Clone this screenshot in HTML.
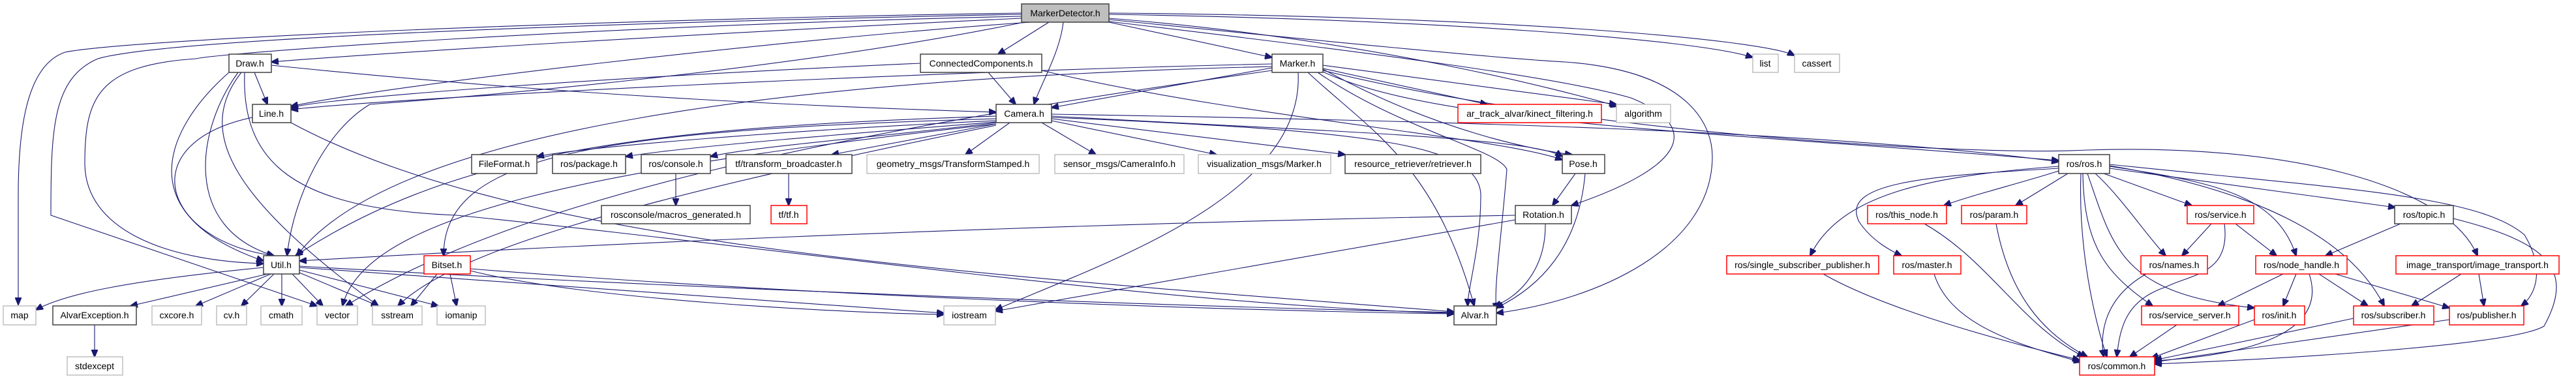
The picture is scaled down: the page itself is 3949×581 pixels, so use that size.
<!DOCTYPE html>
<html><head><meta charset="utf-8"><style>
html,body{margin:0;padding:0;background:#fff;}
svg{display:block;}
text{font-family:"Liberation Sans",sans-serif;font-size:14px;text-anchor:middle;fill:#000;}
.n rect{fill:#fff;stroke:#404040;stroke-width:1.5;}
.r rect{fill:#fff;stroke:#ff0000;stroke-width:1.5;}
.g rect{fill:#fff;stroke:#bfbfbf;stroke-width:1.5;}
path{fill:none;stroke:#191970;stroke-width:1.1;}
</style></head><body>
<svg width="3949" height="581" viewBox="0 0 3949 581" xmlns="http://www.w3.org/2000/svg">
<defs><marker id="a" markerWidth="12" markerHeight="10" refX="11" refY="5" orient="auto" markerUnits="userSpaceOnUse"><path d="M0,0 L12,5 L0,10 Z" style="fill:#191970;stroke:#191970"/></marker></defs>
<g marker-end="url(#a)">
<!-- MarkerDetector edges -->
<path d="M1566,20 C900,30 200,60 100,80 C40,100 28,200 28,300 L28,467"/>
<path d="M1566,22 C900,35 250,60 150,90 C80,120 78,200 78,330 L486,469"/>
<path d="M1566,25 C900,40 350,80 300,90 C150,100 130,150 130,250 C130,350 250,400 404,404"/>
<path d="M1566,28 C1100,50 600,80 416,95"/>
<path d="M1580,34 C1200,60 600,130 446,163"/>
<path d="M1608,34 L1530,83"/>
<path d="M1630,34 C1625,80 1595,130 1585,160"/>
<path d="M1700,34 L1950,88"/>
<path d="M1700,22 C2200,30 2600,60 2687,88"/>
<path d="M1700,20 C2300,25 2700,60 2751,85"/>
<path d="M1700,28 C2100,60 2400,140 2480,163"/>
<path d="M1700,30 C2000,60 2300,90 2400,95 C2600,110 2625,200 2625,240 C2625,380 2450,460 2294,480"/>
<path d="M1700,33 C2100,80 2400,120 2500,150 C2600,190 2600,250 2409,315"/>
<path d="M1570,34 C1200,110 700,150 567,160 C500,200 450,300 440,392"/>
<!-- Draw -->
<path d="M390,111 L410,160"/>
<path d="M416,100 C900,150 1300,165 1527,172"/>
<path d="M351,111 C250,200 200,330 404,400"/>
<path d="M365,111 C300,200 280,350 420,392"/>
<path d="M370,111 C300,200 350,300 580,469"/>
<path d="M375,111 C370,250 450,320 700,330 C1200,380 1800,470 2229,480"/>
<!-- Line -->
<path d="M387,180 C200,220 250,370 420,392"/>
<path d="M446,188 C800,380 1500,420 2229,478"/>
<!-- CC -->
<path d="M1411,97 C900,120 500,150 446,165"/>
<path d="M1515,111 L1557,160"/>
<path d="M1597,108 C1900,180 2300,210 2395,245"/>
<!-- Marker -->
<path d="M1950,104 L1612,165"/>
<path d="M2028,105 L2280,160"/>
<path d="M2028,100 L2478,160"/>
<path d="M2005,111 C2100,200 2200,250 2260,469"/>
<path d="M2020,111 C2150,200 2300,230 2310,260 C2300,380 2290,440 2294,475"/>
<path d="M1950,98 C1400,110 600,150 446,168"/>
<path d="M1950,102 C1200,120 600,200 455,392"/>
<path d="M2028,110 C2200,190 2600,200 3156,246"/>
<path d="M2028,108 C2400,200 3000,240 3200,230 C3500,220 3750,280 3798,392"/>
<path d="M1950,108 C1300,200 800,300 530,469"/>
<path d="M1990,111 C2000,300 1700,400 1526,475"/>
<path d="M2028,106 C2200,200 2350,230 2410,237"/>
<!-- Camera -->
<path d="M1527,178 C1000,195 700,230 453,392"/>
<path d="M1527,182 C900,200 680,240 680,392"/>
<path d="M1527,185 C1200,200 900,225 823,240"/>
<path d="M1527,187 C1300,205 1050,225 959,240"/>
<path d="M1527,188 C1350,210 1150,225 1089,240"/>
<path d="M1527,190 L1275,237"/>
<path d="M1548,188 L1480,237"/>
<path d="M1597,188 L1680,237"/>
<path d="M1612,185 L1865,237"/>
<path d="M1612,182 L2062,237"/>
<path d="M1612,178 C2000,200 2350,210 2395,240"/>
<path d="M1612,175 C2200,185 2800,200 3156,248"/>
<path d="M1612,180 C2100,200 2270,220 2270,300 C2270,380 2250,440 2250,469"/>
<path d="M1527,190 C900,260 560,330 525,469"/>
<path d="M1527,192 C1000,300 700,380 610,469"/>
<!-- Util -->
<path d="M404,410 C200,430 100,450 55,475"/>
<path d="M410,420 L200,469"/>
<path d="M415,420 L300,469"/>
<path d="M420,420 L370,469"/>
<path d="M432,420 L432,469"/>
<path d="M448,420 L495,469"/>
<path d="M459,418 L580,469"/>
<path d="M459,414 L672,469"/>
<path d="M459,410 C900,440 1300,470 1447,480"/>
<path d="M459,408 C1000,440 1800,470 2229,479"/>
<!-- Bitset -->
<path d="M670,420 L630,469"/>
<path d="M690,420 L700,469"/>
<path d="M721,415 C900,460 1300,480 1447,482"/>
<path d="M721,412 C1200,450 1800,475 2229,481"/>
<path d="M145,498 L145,547"/>
<!-- Rotation / Pose -->
<path d="M2323,330 C1500,345 800,380 459,400"/>
<path d="M2323,337 L1526,477"/>
<path d="M2369,343 C2370,420 2320,460 2290,469"/>
<path d="M2415,266 L2380,315"/>
<path d="M2430,266 C2420,380 2360,440 2294,472"/>
<path d="M1036,266 L1036,315"/>
<path d="M1209,266 L1209,315"/>
<!-- ros -->
<path d="M3156,262 C3100,280 3020,300 2980,315"/>
<path d="M3156,255 C2950,270 2820,300 2775,392"/>
<path d="M3156,258 C2950,270 2820,280 2850,340 C2870,370 2900,385 2915,392"/>
<path d="M3170,266 L3090,315"/>
<path d="M3225,266 L3360,315"/>
<path d="M3234,258 L3672,318"/>
<path d="M3212,266 C3250,300 3290,360 3320,392"/>
<path d="M3234,255 C3400,280 3490,300 3520,392"/>
<path d="M3190,266 C3185,400 3220,520 3230,547"/>
<path d="M3193,266 C3195,380 3230,420 3300,469"/>
<path d="M3200,266 C3240,380 3250,450 3456,472"/>
<path d="M3234,254 C3450,290 3600,360 3655,469"/>
<path d="M3234,252 C3600,290 3800,300 3870,360 C3900,410 3890,450 3865,469"/>
<path d="M3761,335 C3900,370 3950,410 3900,500 C3850,530 3500,550 3303,558"/>
<path d="M3390,343 L3345,392"/>
<path d="M3427,343 L3490,392"/>
<path d="M3410,343 C3420,420 3360,420 3320,440 C3260,460 3250,500 3245,547"/>
<path d="M3680,343 L3565,392"/>
<path d="M3060,343 C3080,450 3130,510 3200,547"/>
<path d="M2950,343 C3050,400 3100,500 3195,547"/>
<path d="M2795,420 C2900,480 3100,530 3188,552"/>
<path d="M2965,420 C2990,500 3100,530 3190,555"/>
<path d="M3290,420 C3220,460 3220,520 3225,547"/>
<path d="M3500,420 L3400,469"/>
<path d="M3520,420 L3500,469"/>
<path d="M3555,420 L3630,469"/>
<path d="M3580,420 L3755,472"/>
<path d="M3540,420 C3560,480 3520,540 3303,553"/>
<path d="M3773,420 L3697,469"/>
<path d="M3800,420 L3808,469"/>
<path d="M3337,498 L3265,547"/>
<path d="M3456,490 L3298,549"/>
<path d="M3608,488 L3303,552"/>
<path d="M3755,490 L3303,555"/>
</g>
<!-- nodes -->
<g class="n"><rect x="1566" y="6" width="134" height="28" style="fill:#bfbfbf"/><text x="1633" y="25">MarkerDetector.h</text></g>
<g class="n"><rect x="351" y="83" width="65" height="28"/><text x="383" y="102">Draw.h</text></g>
<g class="n"><rect x="1411" y="83" width="186" height="28"/><text x="1504" y="102">ConnectedComponents.h</text></g>
<g class="n"><rect x="1950" y="83" width="78" height="28"/><text x="1989" y="102">Marker.h</text></g>
<g class="g"><rect x="2687" y="83" width="39" height="28"/><text x="2706" y="102">list</text></g>
<g class="g"><rect x="2751" y="83" width="69" height="28"/><text x="2785" y="102">cassert</text></g>
<g class="n"><rect x="387" y="160" width="59" height="28"/><text x="416" y="179">Line.h</text></g>
<g class="n"><rect x="1527" y="160" width="85" height="28"/><text x="1570" y="179">Camera.h</text></g>
<g class="r"><rect x="2235" y="160" width="220" height="28"/><text x="2345" y="179">ar_track_alvar/kinect_filtering.h</text></g>
<g class="g"><rect x="2478" y="160" width="83" height="28"/><text x="2519" y="179">algorithm</text></g>
<g class="n"><rect x="723" y="237" width="100" height="29"/><text x="773" y="256">FileFormat.h</text></g>
<g class="n"><rect x="847" y="237" width="112" height="29"/><text x="903" y="256">ros/package.h</text></g>
<g class="n"><rect x="983" y="237" width="106" height="29"/><text x="1036" y="256">ros/console.h</text></g>
<g class="n"><rect x="1113" y="237" width="193" height="29"/><text x="1209" y="256">tf/transform_broadcaster.h</text></g>
<g class="g"><rect x="1329" y="237" width="264" height="29"/><text x="1461" y="256">geometry_msgs/TransformStamped.h</text></g>
<g class="g"><rect x="1617" y="237" width="198" height="29"/><text x="1716" y="256">sensor_msgs/CameraInfo.h</text></g>
<g class="g"><rect x="1837" y="237" width="203" height="29"/><text x="1938" y="256">visualization_msgs/Marker.h</text></g>
<g class="n"><rect x="2062" y="237" width="208" height="29"/><text x="2166" y="256">resource_retriever/retriever.h</text></g>
<g class="n"><rect x="2395" y="237" width="65" height="29"/><text x="2427" y="256">Pose.h</text></g>
<g class="n"><rect x="3156" y="237" width="78" height="29"/><text x="3195" y="256">ros/ros.h</text></g>
<g class="n"><rect x="922" y="315" width="228" height="28"/><text x="1036" y="334">rosconsole/macros_generated.h</text></g>
<g class="r"><rect x="1182" y="315" width="55" height="28"/><text x="1209" y="334">tf/tf.h</text></g>
<g class="n"><rect x="2323" y="315" width="86" height="28"/><text x="2366" y="334">Rotation.h</text></g>
<g class="r"><rect x="2863" y="315" width="121" height="28"/><text x="2923" y="334">ros/this_node.h</text></g>
<g class="r"><rect x="3007" y="315" width="100" height="28"/><text x="3057" y="334">ros/param.h</text></g>
<g class="r"><rect x="3353" y="315" width="102" height="28"/><text x="3404" y="334">ros/service.h</text></g>
<g class="n"><rect x="3671" y="315" width="90" height="28"/><text x="3716" y="334">ros/topic.h</text></g>
<g class="n"><rect x="404" y="392" width="55" height="28"/><text x="431" y="411">Util.h</text></g>
<g class="r"><rect x="650" y="392" width="71" height="28"/><text x="685" y="411">Bitset.h</text></g>
<g class="r"><rect x="2647" y="392" width="233" height="28"/><text x="2763" y="411">ros/single_subscriber_publisher.h</text></g>
<g class="r"><rect x="2903" y="392" width="103" height="28"/><text x="2954" y="411">ros/master.h</text></g>
<g class="r"><rect x="3282" y="392" width="102" height="28"/><text x="3333" y="411">ros/names.h</text></g>
<g class="r"><rect x="3458" y="392" width="140" height="28"/><text x="3528" y="411">ros/node_handle.h</text></g>
<g class="r"><rect x="3673" y="392" width="250" height="28"/><text x="3798" y="411">image_transport/image_transport.h</text></g>
<g class="g"><rect x="5" y="469" width="50" height="29"/><text x="30" y="488">map</text></g>
<g class="n"><rect x="81" y="469" width="128" height="29"/><text x="145" y="488">AlvarException.h</text></g>
<g class="g"><rect x="233" y="469" width="76" height="29"/><text x="271" y="488">cxcore.h</text></g>
<g class="g"><rect x="332" y="469" width="46" height="29"/><text x="355" y="488">cv.h</text></g>
<g class="g"><rect x="400" y="469" width="63" height="29"/><text x="431" y="488">cmath</text></g>
<g class="g"><rect x="486" y="469" width="62" height="29"/><text x="517" y="488">vector</text></g>
<g class="g"><rect x="571" y="469" width="76" height="29"/><text x="609" y="488">sstream</text></g>
<g class="g"><rect x="670" y="469" width="74" height="29"/><text x="707" y="488">iomanip</text></g>
<g class="g"><rect x="1447" y="469" width="79" height="29"/><text x="1486" y="488">iostream</text></g>
<g class="n"><rect x="2229" y="469" width="65" height="29"/><text x="2261" y="488">Alvar.h</text></g>
<g class="r"><rect x="3283" y="469" width="149" height="29"/><text x="3357" y="488">ros/service_server.h</text></g>
<g class="r"><rect x="3456" y="469" width="77" height="29"/><text x="3494" y="488">ros/init.h</text></g>
<g class="r"><rect x="3608" y="469" width="123" height="29"/><text x="3669" y="488">ros/subscriber.h</text></g>
<g class="r"><rect x="3755" y="469" width="114" height="29"/><text x="3812" y="488">ros/publisher.h</text></g>
<g class="g"><rect x="103" y="547" width="85" height="28"/><text x="145" y="566">stdexcept</text></g>
<g class="r"><rect x="3188" y="547" width="115" height="28"/><text x="3245" y="566">ros/common.h</text></g>
</svg>
</body></html>
